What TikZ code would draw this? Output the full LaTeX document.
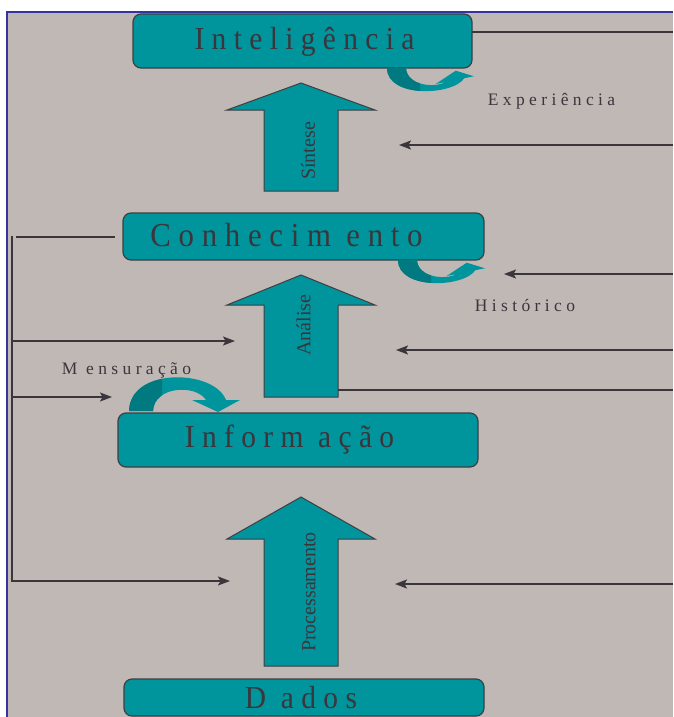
\documentclass[tikz,border=0pt]{standalone}
\usepackage{fontspec}
\setmainfont{Liberation Serif}
\newfontfamily\levelfont[FakeStretch=0.92]{Liberation Serif}
\usetikzlibrary{arrows.meta}

\definecolor{bggray}{RGB}{192,184,181}
\definecolor{tealmain}{RGB}{0,148,156}
\definecolor{tealdark}{RGB}{0,122,128}
\definecolor{ink}{RGB}{58,54,60}
\definecolor{edgegray}{RGB}{64,62,66}
\definecolor{frameblue}{RGB}{52,52,160}

% upward block arrow: tip y, shoulder y, bottom y
\newcommand\blockup[3]{%
  \filldraw[fill=tealmain, draw=edgegray, line width=1pt]
    (301,#1) -- (375,#2) -- (338,#2) -- (338,#3) -- (264,#3) -- (264,#2) -- (227,#2) -- cycle;}

% outline of the U-shaped return arrow, origin at the top of its left leg
\newcommand\uturnpath{%
  (0,0) -- (19,0) .. controls (20,18) and (48,20) .. (58.3,14.1) -- (48.7,16) -- (68.7,2.7)
  -- (87,8.3) -- (77.4,10.2) .. controls (65,28) and (0,30) .. (0,0) -- cycle}

% outline of the arch arrow above Informação
\newcommand\archpath{%
  (129,411) -- (153,411) .. controls (154,386) and (196,384) .. (206,400) -- (192,400)
  -- (218,412) -- (240,400) -- (226,400) .. controls (214,369) and (130,367) .. (129,411) -- cycle}

\begin{document}
\begin{tikzpicture}[x=1pt,y=-1pt,
  levelbox/.style={draw=edgegray, line width=1.2pt, fill=tealmain, rounded corners=8pt,
    inner sep=0pt, outer sep=0pt},
  leveltext/.style={font=\levelfont\fontsize{32}{32}\selectfont, text=ink, inner sep=0pt, anchor=base},
  smalltext/.style={font=\fontsize{17.5}{17.5}\selectfont, text=ink, inner sep=0pt, anchor=base},
  flowtext/.style={font=\fontsize{20}{20}\selectfont, text=ink, inner sep=0pt, rotate=90},
  link/.style={draw=ink, line width=1.3pt},
  feed/.style={link, -{Stealth[length=12pt,width=9pt,inset=2.5pt]}},
  uturn/.pic={
    \path[fill=tealmain] \uturnpath;
    \begin{scope}
      \clip (-5,-5) rectangle (33,40);
      \path[fill=tealdark] \uturnpath;
    \end{scope}
  }]

\useasboundingbox (0,0) rectangle (673,717);
\fill[white] (0,0) rectangle (673,717);
\fill[bggray] (7,12) rectangle (673,717);
\draw[frameblue, line width=2pt] (7,717) -- (7,12) -- (673,12);

% levels
\node[levelbox, minimum width=339pt, minimum height=54pt] (int) at (302.5,41) {};
\node[leveltext] (intlabel) at (304.5,49) {I n t e l i g ê n c i a};
\node[levelbox, minimum width=361pt, minimum height=47pt] (con) at (303.5,236.5) {};
\node[leveltext, font=\levelfont\fontsize{33.5}{33.5}\selectfont] (conlabel) at (286.5,246) {C o n h e c i m\ \ e n t o};
\node[levelbox, minimum width=360pt, minimum height=54pt] (inf) at (298,440) {};
\node[leveltext] (inflabel) at (289.5,447) {I n f o r m\ \ a ç ã o};
\node[levelbox, minimum width=360pt, minimum height=37pt] (dad) at (304,697.5) {};
\node[leveltext] (dadlabel) at (301,708) {D\ \ a d o s};

% block arrows between levels
\blockup{83}{110}{191}
\node[flowtext] (sintese) at (308,151) {Síntese};
\blockup{275}{305}{397}
\node[flowtext] (analise) at (303.5,325) {Análise};
\blockup{497}{539}{666}
\node[flowtext] (proc) at (309,592) {Processamento};

% curved return arrows
\pic at (387,68) {uturn};
\pic at (398,260) {uturn};
\path[fill=tealmain] \archpath;
\begin{scope}
  \clip (120,360) rectangle (162,415);
  \path[fill=tealdark] \archpath;
\end{scope}

% labels
\node[smalltext] (exp) at (551.5,105) {E x p e r i ê n c i a};
\node[smalltext] (hist) at (525,311.5) {H i s t ó r i c o};
\node[smalltext] (mens) at (126.5,374) {M\ \ e n s u r a ç ã o};

% connector end points
\coordinate (r32) at (673,32);
\coordinate (r145) at (673,145);
\coordinate (a145) at (399,145);
\coordinate (r274) at (673,274);
\coordinate (a274) at (504,274);
\coordinate (r350) at (673,350);
\coordinate (a350) at (396,350);
\coordinate (s390) at (338,390);
\coordinate (r390) at (673,390);
\coordinate (r584) at (673,584);
\coordinate (a584) at (395,584);
\coordinate (ltop) at (12,236);
\coordinate (lcorner) at (12,581);
\coordinate (a581) at (230,581);
\coordinate (l341) at (12,341);
\coordinate (a341) at (235,341);
\coordinate (l397) at (12,397);
\coordinate (a397) at (112,397);
\coordinate (l237) at (16,237);
\coordinate (e237) at (115,237);

% right side
\draw[link] (int.east |- r32) -- (r32);
\draw[feed] (r145) -- (a145);
\draw[feed] (r274) -- (a274);
\draw[feed] (r350) -- (a350);
\draw[link] (s390) -- (r390);
\draw[feed] (r584) -- (a584);

% left side
\draw[link] (l237) -- (e237);
\draw[feed, line width=1.5pt] (ltop) -- (lcorner) -- (a581);
\draw[feed] (l341) -- (a341);
\draw[feed] (l397) -- (a397);
\end{tikzpicture}
\end{document}
